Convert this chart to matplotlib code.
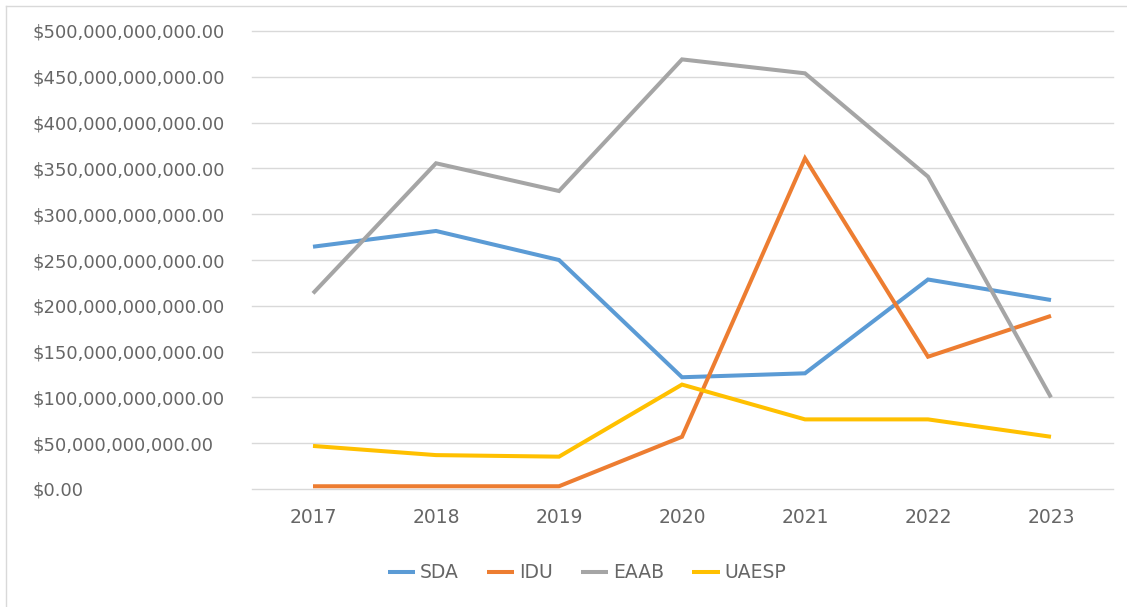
import matplotlib
matplotlib.use("Agg")
import matplotlib.pyplot as plt
from matplotlib.ticker import FuncFormatter, MultipleLocator
from matplotlib.lines import Line2D

years = ["2017", "2018", "2019", "2020", "2021", "2022", "2023"]
sda = [264.5e9, 281.7e9, 250.0e9, 122.0e9, 126.3e9, 228.7e9, 206.3e9]
idu = [3.0e9, 3.0e9, 3.0e9, 57.0e9, 361.0e9, 144.4e9, 189.0e9]
eaab = [213.6e9, 355.6e9, 325.3e9, 469.0e9, 453.8e9, 341.0e9, 100.0e9]
uaesp = [47.0e9, 37.0e9, 35.3e9, 114.0e9, 76.0e9, 76.0e9, 57.0e9]
series_names = ["SDA", "IDU", "EAAB", "UAESP"]
colors = ["#5B9BD5", "#ED7D31", "#A5A5A5", "#FFC000"]

plt.rcParams['font.family'] = ['DejaVu Sans']

W, H = 1127, 607
fig = plt.figure(figsize=(W / 100, H / 100), dpi=100)
# chart-area border (top and left visible in the reference crop)
fig.add_artist(Line2D([5.5 / W, 5.5 / W], [0, 1 - 5.5 / H], transform=fig.transFigure,
                      color="#d9d9d9", linewidth=1))
fig.add_artist(Line2D([5.5 / W, 1], [1 - 5.5 / H, 1 - 5.5 / H], transform=fig.transFigure,
                      color="#d9d9d9", linewidth=1))

ax = fig.add_axes([251.5 / W, 118 / H, 861 / W, 458 / H])

x = list(range(len(years)))
for name, vals, c in zip(series_names, [sda, idu, eaab, uaesp], colors):
    ax.plot(x, vals, color=c, linewidth=2.9, label=name, solid_capstyle="butt", solid_joinstyle="miter")

ax.set_xlim(-0.5, len(years) - 0.5)
ax.set_ylim(0, 500e9)
ax.yaxis.set_major_locator(MultipleLocator(50e9))
ax.yaxis.set_major_formatter(FuncFormatter(lambda v, p: f"${v:,.2f}"))
ax.set_xticks(x)
ax.set_xticklabels(years)
ax.grid(axis="y", color="#d9d9d9", linewidth=1)
for gl in ax.get_ygridlines():
    gl.set_clip_on(False)
ax.set_axisbelow(True)
for s in ax.spines.values():
    s.set_visible(False)
ax.tick_params(axis="both", length=0, colors="#666666")
ax.tick_params(axis="y", labelsize=13, pad=(251.5 - 32.5) * 0.72)
ax.tick_params(axis="x", labelsize=13.5, pad=14)
for lbl in ax.get_yticklabels():
    lbl.set_horizontalalignment("left")

leg = fig.legend(loc="center", bbox_to_anchor=(587 / W, 1 - 573 / H), ncol=4, frameon=False,
                 fontsize=13.5, handlelength=1.45, columnspacing=1.5, handletextpad=0.27)
for t in leg.get_texts():
    t.set_color("#666666")

fig.savefig("out.png", dpi=100)
